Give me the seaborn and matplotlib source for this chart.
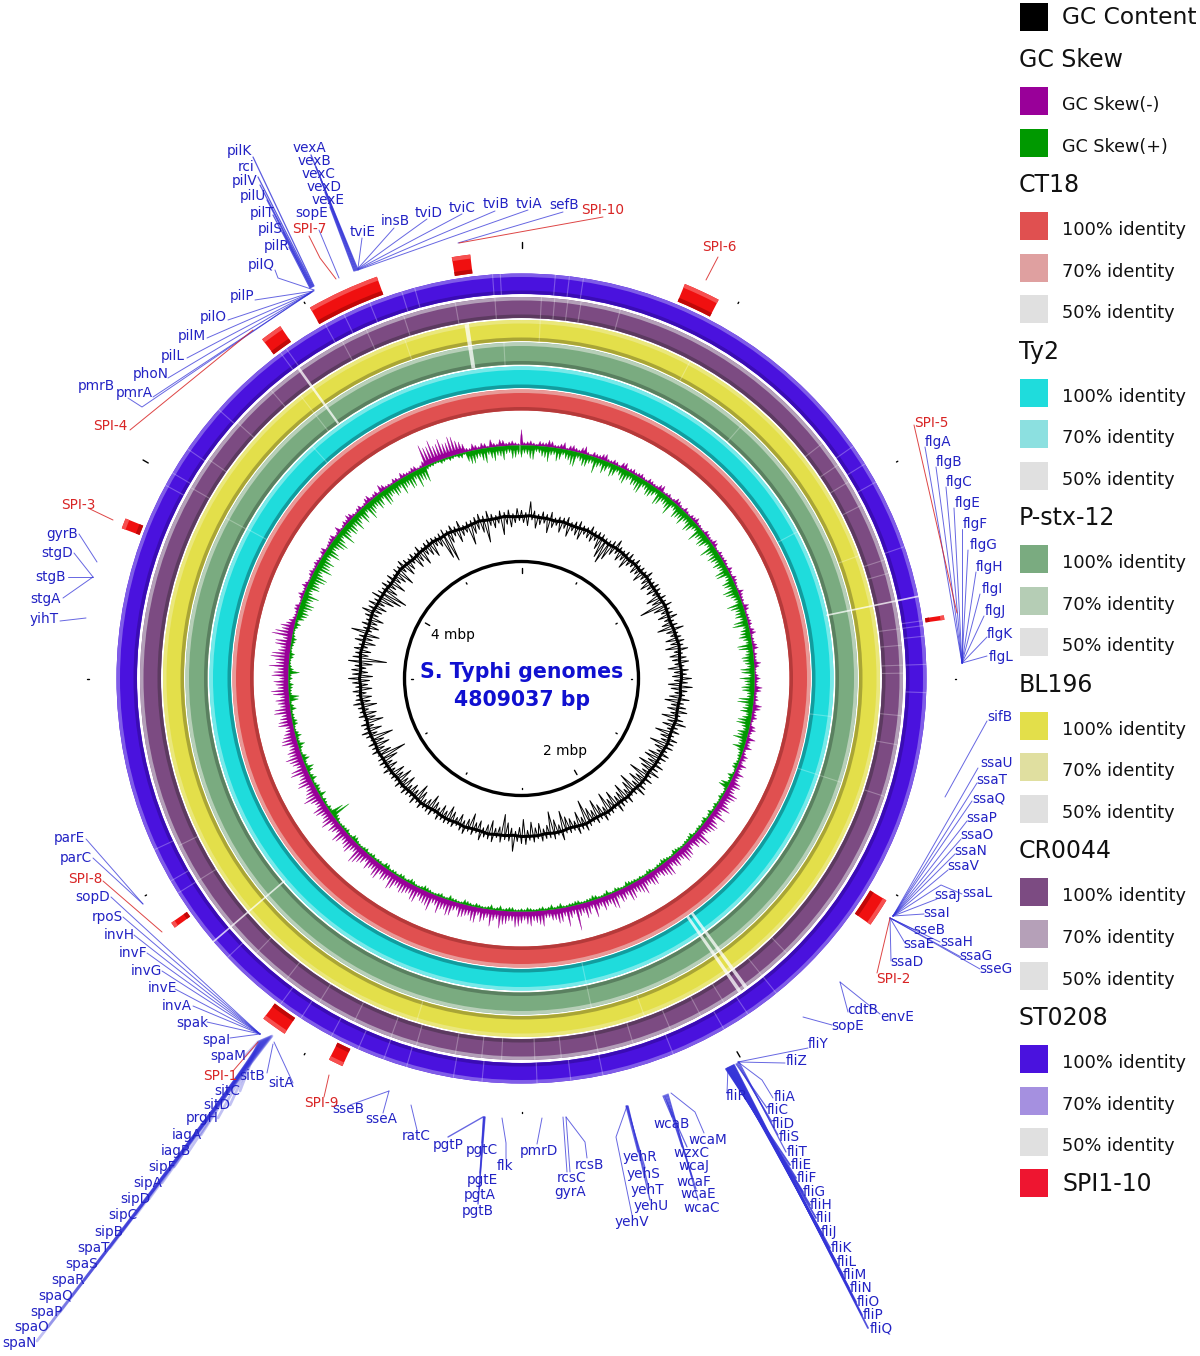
#!/usr/bin/env python3
# Circular genome comparison of S. Typhi (rings, GC skew, GC content, gene labels)
import numpy as np
import seaborn as sns
import matplotlib
matplotlib.use('Agg')
import matplotlib.pyplot as plt
from matplotlib.patches import Wedge, Circle, Rectangle

sns.set_theme(style='white')

CX, CY = 521.5, 678.5

# Values, one row per 30 degrees, clockwise from the top
gc_in = [
    7,10,5,13,8,6,15,9,5,11,7,14,6,9,12,5,8,10,6,13,
    20,24,17,9,6,11,8,14,7,5,10,8,12,6,9,13,7,10,6,15,
    11,26,14,8,12,7,10,16,9,6,12,8,15,7,11,9,6,13,8,10,
    8,14,10,6,12,16,8,11,7,15,9,13,6,17,10,8,19,12,7,14,
    16,10,18,13,8,20,11,16,9,21,14,8,18,12,9,17,11,20,8,13,
    19,10,14,24,9,16,7,11,13,20,8,14,23,10,6,12,9,15,7,18,
    10,6,8,13,22,9,7,14,10,6,11,8,16,9,7,12,6,10,15,8,
    12,7,10,15,9,6,13,18,8,11,7,14,10,17,9,13,6,11,8,16,
    27,13,9,16,11,22,8,14,7,18,10,12,6,15,9,11,7,13,8,10,
    14,9,6,12,27,8,11,7,13,9,15,6,11,8,14,7,10,13,8,16,
    22,26,13,9,16,8,12,18,7,14,10,6,13,9,16,8,11,15,7,10,
    24,29,12,7,14,9,6,20,11,8,13,24,7,10,6,18,9,12,7,5,
]
gc_out = [
    5,3,13,4,2,5,3,6,2,4,3,5,2,4,6,3,2,5,3,4,
    4,2,3,5,8,3,2,4,6,3,5,2,4,3,6,2,3,5,4,2,
    5,3,6,2,4,7,3,5,9,2,4,6,3,7,2,5,8,3,6,4,
    9,5,11,6,3,8,4,7,9,3,6,10,4,7,3,8,5,6,3,7,
    6,3,8,5,10,4,7,3,6,9,4,2,6,3,5,8,2,4,3,6,
    3,5,2,4,6,3,7,2,4,3,8,2,5,3,4,6,2,5,3,7,
    6,4,15,5,3,6,2,7,4,3,8,2,5,3,6,4,2,5,3,4,
    3,5,2,6,4,3,5,2,7,3,4,6,2,5,3,4,2,6,3,5,
    4,2,5,3,6,2,4,7,3,5,2,6,3,4,8,5,3,6,4,7,
    10,6,8,5,11,7,4,6,3,8,5,14,4,7,3,6,10,5,8,4,
    9,5,3,6,4,7,2,5,3,6,4,2,5,3,6,2,4,5,3,2,
    4,6,2,5,3,7,2,4,3,5,6,3,8,4,2,6,3,5,2,7,
]
# Slow drift of the GC line, one value per 3 degrees
gc_core = [
    2,3,2,2,1,2,1,1,2,1,
    1,0,1,1,0,1,0,1,0,0,
    0,1,0,-1,0,0,1,0,-1,0,
    0,-1,0,-1,-1,0,-1,-1,0,-1,
    -1,-1,-2,-1,-1,-2,-1,-2,-2,-1,
    -2,-2,-1,-2,-3,-2,-2,-3,-2,-2,
    -2,-3,-2,-2,-1,-2,-2,-1,-2,-1,
    -1,-2,-1,0,-1,-1,0,-1,0,0,
    0,1,0,1,1,0,1,1,2,1,
    2,1,2,3,2,2,1,2,3,2,
    2,2,1,2,3,2,1,2,2,3,
    2,3,2,1,2,3,2,2,3,2,
]
skew_neg = [
    16,4,3,5,4,6,3,7,5,4,6,3,5,4,7,3,4,6,3,5,
    4,3,5,3,6,2,4,3,5,2,3,4,6,3,2,4,3,5,2,3,
    4,2,3,5,3,2,4,3,6,2,3,4,5,2,3,6,4,3,5,2,
    6,3,7,4,3,8,5,3,6,4,9,5,3,7,4,6,10,7,12,9,
    13,9,15,10,7,14,11,8,16,12,9,14,10,13,8,15,11,9,13,10,
    14,10,16,12,8,15,11,9,18,13,10,26,12,9,15,11,8,14,10,13,
    12,16,10,14,9,17,12,8,15,11,14,9,16,12,10,18,13,9,15,11,
    14,10,17,12,9,15,11,8,14,19,10,13,9,16,11,8,13,10,15,9,
    18,12,9,14,10,16,12,17,13,9,15,11,8,14,10,16,12,9,18,13,
    9,15,20,14,18,10,16,21,12,9,4,3,5,2,6,3,4,2,5,3,
    4,2,6,3,5,2,7,3,4,6,2,5,3,7,4,2,6,3,5,2,
    4,3,5,3,22,18,16,21,15,19,12,4,7,3,5,8,3,6,4,3,
]
skew_neg_mid = [
    3,5,2,4,7,3,5,2,6,3,8,2,4,6,3,5,2,7,4,3,
    5,2,4,3,7,3,2,6,3,5,2,4,3,2,5,3,6,2,4,3,
    3,5,2,4,2,6,3,2,5,3,4,2,6,3,5,2,3,7,2,4,
    4,8,3,5,9,4,6,2,7,3,5,8,4,6,9,5,7,11,8,14,
    10,12,8,16,11,13,9,17,10,7,13,15,9,11,16,12,8,14,10,17,
    12,15,9,13,17,10,14,11,8,16,12,9,20,14,11,8,16,12,15,9,
    15,10,13,18,11,9,14,16,10,13,8,15,11,17,9,14,12,16,10,13,
    11,15,9,13,16,10,14,12,17,9,15,11,14,8,13,16,10,14,9,12,
    14,10,16,11,18,9,14,12,10,16,13,9,15,12,17,10,14,16,11,15,
    17,11,13,19,12,16,9,18,14,7,3,5,2,4,3,6,2,4,3,5,
    3,5,2,4,6,3,2,5,7,3,4,2,6,3,5,8,3,2,4,6,
    3,5,2,6,18,23,17,15,20,14,9,3,5,6,2,4,7,3,5,2,
]
skew_pos = [
    12,9,14,7,11,8,13,6,10,15,8,12,7,9,13,6,11,8,14,7,
    10,15,8,12,6,13,9,16,7,11,14,8,12,6,10,13,7,16,9,11,
    12,8,14,7,11,15,9,6,13,10,7,16,9,12,6,14,8,11,7,13,
    15,9,12,7,16,10,6,13,8,11,14,7,6,4,3,5,2,4,9,3,
    3,2,4,2,3,5,2,3,2,4,3,2,4,2,3,5,3,2,4,2,
    2,3,5,2,4,2,3,2,5,3,2,4,3,2,3,5,2,3,2,4,
    3,2,4,2,3,5,2,3,2,4,2,3,5,2,3,2,4,3,2,5,
    2,4,3,2,5,3,2,3,4,2,3,5,2,3,2,4,20,3,2,4,
    7,4,3,6,2,8,3,5,2,7,3,4,2,5,3,6,2,10,3,5,
    4,11,3,2,5,2,4,3,2,6,8,11,13,9,16,7,12,15,10,17,
    12,9,16,8,14,11,18,9,13,16,8,12,17,10,14,7,15,9,12,16,
    10,14,18,13,4,3,2,3,4,2,5,10,13,8,15,11,9,14,7,12,
]
skew_pos_mid = [
    8,13,6,10,15,7,11,9,14,6,12,8,16,7,10,13,6,12,9,11,
    14,7,12,9,15,8,11,6,13,10,8,14,7,16,9,12,6,11,13,8,
    9,14,6,12,8,13,7,16,9,11,14,6,10,8,15,7,12,9,14,6,
    10,13,7,15,8,12,9,14,6,10,7,12,4,3,5,2,6,3,10,2,
    4,2,3,5,2,4,3,2,5,3,2,3,5,2,4,3,2,4,2,3,
    3,4,2,3,2,5,2,4,3,2,4,3,2,5,2,3,4,2,3,2,
    2,4,3,5,2,3,2,4,3,5,2,3,2,4,2,3,5,2,4,3,
    4,2,3,5,2,3,4,2,3,2,5,2,4,3,2,5,14,4,3,2,
    3,5,2,4,6,3,7,2,4,3,6,2,5,3,2,4,9,3,4,2,
    3,5,2,4,2,3,5,2,4,3,10,9,14,11,8,13,10,16,8,13,
    15,8,13,10,16,7,12,14,9,11,15,7,13,9,12,16,10,13,8,11,
    15,8,12,16,3,2,4,2,3,4,2,13,9,12,7,14,10,8,13,9,
]

# Rings from outside to inside
ring_names = ['ST0208', 'CR0044', 'BL196', 'P-stx-12', 'Ty2', 'CT18']
ring_outer = [405, 381.5, 358.5, 336, 312, 289]
ring_inner = [384.5, 360.5, 337.5, 314, 290.5, 268]
ring_main = ['#4a12de', '#7c4b82', '#e3df4a', '#7aab80', '#1fdcdc', '#e05050']
ring_light = ['#7f5ce8', '#b39fb8', '#eae77c', '#b7cfb8', '#78e9e9', '#e89a98']
ring_dark = ['#3a0cb4', '#5c3a60', '#a9a536', '#5a8060', '#129c9e', '#b53a3a']
ring_70 = ['#a590e0', '#b5a0b8', '#e0dfa0', '#b5cdb5', '#8ce0e0', '#dfa0a0']

# Angles of the pale cuts in each ring
blue_cuts = [4.8, 6.8, 8.8, 298.5, 300.5, 304.5, 311.6, 323.5, 324.5, 331, 334, 338,
             342.8, 344.7, 355.9, 357, 55, 58, 61, 71, 81.8, 82.5, 84, 88, 92, 141,
             146, 150, 158, 168.4, 173, 177.8, 185.6, 189.7, 196.5, 199.9, 203.8, 208,
             213, 216.5, 226.5, 238, 240, 245]
purple_cuts = [3, 5, 7, 9, 15, 52, 56, 59, 63, 71.9, 74, 82.5, 85, 88, 89.2, 95.6, 100,
               108, 136, 141, 148, 152, 157, 163, 168.4, 174, 178, 183, 186, 190, 196,
               200, 206, 212, 218, 224, 238, 244, 300, 305, 312, 319, 332, 336, 342, 350, 356]
yellow_cuts = [3, 28, 70, 160, 197, 322, 341]
green_cuts = [357, 41, 108, 168, 298.5, 322]
cyan_cuts = [62, 97, 108, 168, 298.6, 318]
red_cuts = []
strong_cuts = [78.3, 229.5]
strong_start = [312, 312]
strong_end = [405, 405]

# Wide pale band that crosses the middle rings, and the one at the top left
wide_angles = [144.0, 145.1, 351.2, 324.3]
wide_widths = [0.55, 0.55, 0.7, 0.4]
wide_outer = [382, 382, 358.5, 382]
wide_inner = [290, 290, 314, 314]

# Pathogenicity islands on the outside of the rings
spi_start = [330.3, 350.6, 22.5, 322.6, 290.6, 81.5, 121.3, 213.7, 234.3, 204.8]
spi_end = [340.2, 353.1, 27.5, 325.6, 292.0, 82.1, 125.2, 217.2, 235.1, 206.8]

# Scale ticks, same positions on the inner circle and round the outside
tick_major = [0, 150, 300]
tick_minor = [30, 60, 90, 120, 180, 210, 240, 270, 330]

# Gene labels: name, label x, label y, leader x, leader y
pil_labels = [
    ('pilK', 239, 151, 253, 157), ('rci', 246, 167, 258, 177), ('pilV', 245, 181, 260, 185),
    ('pilU', 253, 196, 267, 200), ('pilT', 262, 213, 273, 215), ('pilS', 270, 229, 283, 232),
    ('pilR', 277, 246, 289, 247),
]
pil_fan = [
    ('pilP', 242, 296, 255, 300), ('pilO', 213, 317, 228, 320), ('pilM', 192, 336, 207, 338),
    ('pilL', 173, 356, 187, 358), ('phoN', 151, 374, 168, 378), ('pmrA', 134, 393, 153, 397),
]
vex_labels = [
    ('vexA', 309, 148, 311, 155), ('vexB', 314, 161, 316, 167), ('vexC', 319, 174, 321, 180),
    ('vexD', 324, 187, 325, 192), ('vexE', 328, 200, 330, 207),
]
tvi_labels = [
    ('tviE', 363, 232, 362, 238), ('insB', 395, 221, 394, 228), ('tviD', 429, 213, 427, 219),
    ('tviC', 462, 208, 462, 214), ('tviB', 496, 204, 495, 211), ('tviA', 529, 204, 528, 210),
]
flg_labels = [
    ('flgA', 938, 442, 925, 447), ('flgB', 949, 462, 936, 467), ('flgC', 959, 482, 946, 487),
    ('flgE', 968, 503, 954, 508), ('flgF', 975, 524, 962, 529), ('flgG', 984, 545, 968, 550),
    ('flgH', 990, 567, 976, 572), ('flgI', 992, 589, 980, 594), ('flgJ', 995, 611, 984, 616),
    ('flgK', 1000, 634, 987, 637), ('flgL', 1001, 657, 987, 656),
]
ssa_labels = [
    ('ssaU', 997, 763, 978, 768), ('ssaT', 992, 780, 977, 783), ('ssaQ', 989, 798, 972, 801),
    ('ssaP', 982, 818, 967, 821), ('ssaO', 977, 835, 961, 839), ('ssaN', 971, 851, 955, 854),
    ('ssaV', 963, 866, 948, 870), ('ssaJ', 948, 895, 937, 899), ('ssaI', 937, 913, 924, 914),
    ('sseB', 929, 930, 915, 930), ('ssaE', 919, 944, 905, 943), ('ssaH', 957, 942, 940, 942),
    ('ssaG', 976, 956, 961, 957), ('sseG', 996, 969, 980, 969),
]
fli_labels = [
    ('fliE', 801, 1165, 790, 1165), ('fliF', 807, 1178, 796, 1178), ('fliG', 814, 1192, 803, 1192),
    ('fliH', 821, 1205, 810, 1205), ('fliI', 824, 1218, 816, 1218), ('fliJ', 829, 1232, 821, 1232),
    ('fliK', 841, 1248, 830, 1248), ('fliL', 847, 1262, 836, 1262), ('fliM', 855, 1275, 843, 1275),
    ('fliN', 861, 1288, 849, 1288), ('fliO', 868, 1302, 856, 1302), ('fliP', 873, 1315, 862, 1315),
    ('fliQ', 881, 1328, 868, 1328),
]
fli_near = [
    ('fliC', 778, 1110, 767, 1108), ('fliD', 783, 1124, 772, 1122), ('fliS', 789, 1137, 778, 1135),
    ('fliT', 797, 1152, 786, 1152),
]
wca_labels = [
    ('wcaB', 672, 1124, 672, 1117), ('wzxC', 691, 1153, 687, 1147), ('wcaJ', 694, 1166, 682, 1147),
    ('wcaF', 694, 1182, 692, 1177), ('wcaE', 698, 1194, 696, 1189), ('wcaC', 702, 1208, 698, 1200),
]
yeh_labels = [
    ('yehR', 640, 1157, 638, 1152), ('yehS', 643, 1174, 645, 1168), ('yehT', 647, 1190, 648, 1185),
    ('yehU', 651, 1206, 650, 1200),
]
pgt_labels = [
    ('pgtP', 448, 1145, 448, 1137), ('pgtC', 482, 1150, 482, 1143), ('pgtE', 482, 1180, 480, 1173),
    ('pgtA', 480, 1195, 479, 1189), ('pgtB', 478, 1211, 478, 1204),
]
inv_labels = [
    ('sopD', 93, 897, 111, 897), ('rpoS', 107, 917, 123, 917), ('invH', 119, 935, 134, 935),
    ('invF', 133, 953, 147, 953), ('invG', 146, 971, 162, 971), ('invE', 162, 988, 175, 989),
    ('invA', 177, 1006, 193, 1006), ('spak', 192, 1023, 207, 1022), ('spaI', 216, 1040, 230, 1038),
]
spa_labels = [
    ('spaM', 228, 1056, 245, 1056), ('sitC', 227, 1091, 240, 1091), ('sitD', 217, 1105, 230, 1105),
    ('prgH', 202, 1118, 218, 1118), ('iagA', 187, 1135, 201, 1135), ('iagB', 176, 1151, 189, 1151),
    ('sipF', 162, 1167, 174, 1167), ('sipA', 148, 1183, 162, 1183), ('sipD', 135, 1199, 149, 1199),
    ('sipC', 123, 1215, 136, 1215), ('sipB', 109, 1232, 122, 1232), ('spaT', 94, 1248, 110, 1248),
    ('spaS', 82, 1264, 97, 1264), ('spaR', 68, 1280, 84, 1280), ('spaQ', 56, 1296, 72, 1296),
    ('spaP', 46, 1312, 60, 1312), ('spaO', 32, 1327, 48, 1327), ('spaN', 19, 1343, 37, 1341),
]

# Labels with their own leader, given as a path
other_labels = [
    ('pilQ', 261, 265, [(275, 270), (278, 278), (314, 290)]),
    ('pmrB', 96, 386, [(128, 398), (142, 407), (314, 290)]),
    ('sopE', 312, 213, [(319, 230), (339, 278)]),
    ('sefB', 564, 205, [(563, 212), (458, 243)]),
    ('sifB', 1000, 717, [(987, 721), (945, 797)]),
    ('ssaL', 977, 893, [(962, 894), (941, 885), (893, 916)]),
    ('ssaD', 907, 962, [(891, 961), (890, 918)]),
    ('cdtB', 863, 1010, [(848, 1012), (840, 982)]),
    ('envE', 897, 1017, [(880, 1014), (840, 982)]),
    ('sopE', 848, 1026, [(832, 1025), (803, 1017)]),
    ('fliY', 818, 1044, [(808, 1048), (738, 1062)]),
    ('fliZ', 797, 1061, [(785, 1063), (738, 1062)]),
    ('fliR', 737, 1096, [(727, 1093), (728, 1068)]),
    ('fliA', 785, 1097, [(773, 1098), (762, 1080), (738, 1062)]),
    ('wcaM', 708, 1140, [(704, 1133), (695, 1112), (671, 1093)]),
    ('yehV', 632, 1222, [(632, 1215), (616, 1137), (627, 1106)]),
    ('rcsB', 589, 1165, [(587, 1158), (585, 1142), (566, 1117)]),
    ('rcsC', 572, 1178, [(570, 1172), (566, 1117)]),
    ('gyrA', 570, 1192, [(567, 1172), (563, 1117)]),
    ('pmrD', 539, 1151, [(537, 1144), (542, 1118)]),
    ('flk', 505, 1166, [(506, 1159), (506, 1143), (502, 1118)]),
    ('ratC', 416, 1136, [(417, 1130), (411, 1105)]),
    ('sseA', 381, 1119, [(383, 1113), (389, 1091)]),
    ('sseB', 348, 1109, [(350, 1105), (389, 1091)]),
    ('parE', 69, 838, [(86, 839), (143, 904)]),
    ('parC', 76, 858, [(93, 858), (143, 904)]),
    ('sitB', 252, 1076, [(267, 1073), (273, 1044)]),
    ('sitA', 281, 1083, [(293, 1083), (274, 1042)]),
    ('gyrB', 62, 534, [(79, 534), (97, 562)]),
    ('stgD', 57, 553, [(74, 553), (93, 577)]),
    ('stgB', 51, 577, [(68, 577), (93, 577)]),
    ('stgA', 46, 599, [(63, 598), (93, 577)]),
    ('yihT', 44, 619, [(60, 621), (86, 618)]),
]
spi_labels = [
    ('SPI-1', 220, 1076, [(233, 1071), (258, 1042)]),
    ('SPI-2', 893, 979, [(877, 973), (890, 918)]),
    ('SPI-3', 78, 505, [(90, 509), (113, 520)]),
    ('SPI-4', 110, 426, [(130, 430), (253, 330)]),
    ('SPI-5', 931, 423, [(914, 425), (957, 613)]),
    ('SPI-6', 719, 247, [(718, 257), (706, 280)]),
    ('SPI-7', 309, 229, [(309, 236), (320, 258), (336, 279)]),
    ('SPI-8', 85, 879, [(103, 881), (162, 932)]),
    ('SPI-9', 321, 1103, [(324, 1097), (329, 1075)]),
    ('SPI-10', 603, 210, [(603, 217), (459, 243)]),
]

# Legend
legend_groups = ['CT18', 'Ty2', 'P-stx-12', 'BL196', 'CR0044', 'ST0208']
legend_levels = ['100% identity', '70% identity', '50% identity']
GREY_50 = '#e0e0e0'
SPI_COLOR = '#ee1530'
BLUE = '#2222c4'
LINE_BLUE = '#3434d8'
RED = '#d82424'


def polar(angle, r):
    # angle clockwise from the top, in degrees
    a = np.radians(angle)
    return CX + r * np.sin(a), CY - r * np.cos(a)


def band(ax, start, end, outer, inner, color, z=2):
    ax.add_patch(Wedge((CX, CY), outer, start - 90, end - 90, width=outer - inner,
                       facecolor=color, edgecolor='none', zorder=z))


def cut(ax, angle, outer, inner, alpha=0.28, lw=0.8):
    xs, ys = polar(np.array([angle, angle]), np.array([inner, outer]))
    ax.plot(xs, ys, color='white', alpha=alpha, lw=lw, zorder=3)


def write(ax, name, x, y, color=BLUE, size=9.8):
    ax.text(x, y, name, color=color, fontsize=size, ha='center', va='center', zorder=6)


def fan(ax, labels, a0, a1, lw=0.7, alpha=0.75):
    # leaders of one cluster run to a short stretch of anchor points
    xs = np.linspace(a0[0], a1[0], len(labels))
    ys = np.linspace(a0[1], a1[1], len(labels))
    for (name, lx, ly, sx, sy), ax0, ay0 in zip(labels, xs, ys):
        ax.plot([sx, ax0], [sy, ay0], color=LINE_BLUE, lw=lw, alpha=alpha, zorder=4)
        write(ax, name, lx, ly)


def spikes(ax, coarse, mid, base, sign, color):
    # narrow spikes on a solid foot that is thicker where the signal is strong
    steps = np.arange(len(coarse)) * 1.5
    tip_a = np.ravel(np.column_stack([steps, steps + 0.75]))
    size = np.ravel(np.column_stack([coarse, mid]))
    foot = np.minimum(size * 0.45, 5)
    verts_a = np.ravel(np.column_stack([tip_a - 0.27, tip_a, tip_a + 0.27]))
    verts_r = base + sign * np.ravel(np.column_stack([foot, size, foot]))
    xo, yo = polar(verts_a, verts_r)
    xi, yi = polar(verts_a[::-1], np.full(len(verts_a), base))
    ax.fill(np.r_[xo, xi], np.r_[yo, yi], color=color, lw=0.2, zorder=2)


fig = plt.figure(figsize=(12, 13.56), dpi=100)
ax = fig.add_axes([0, 0, 1, 1])

# Identity rings with their light and dark edges
for outer, inner, main, light, dark in zip(ring_outer, ring_inner, ring_main, ring_light, ring_dark):
    band(ax, 0, 360, outer, inner, main)
    band(ax, 0, 360, outer, outer - 3.5, light)
    band(ax, 0, 360, inner + 3.5, inner, dark)

for cuts, outer, inner in zip([blue_cuts, purple_cuts, yellow_cuts, green_cuts, cyan_cuts, red_cuts],
                              ring_outer, ring_inner):
    for angle in cuts:
        cut(ax, angle, outer, inner)
for angle, outer, inner in zip(strong_cuts, strong_end, strong_start):
    cut(ax, angle, outer, inner, alpha=0.75, lw=1.2)
for angle, width, outer, inner in zip(wide_angles, wide_widths, wide_outer, wide_inner):
    ax.add_patch(Wedge((CX, CY), outer, angle - width / 2 - 90, angle + width / 2 - 90,
                       width=outer - inner, facecolor='white', alpha=0.75, edgecolor='none', zorder=3))

# Island blocks
for start, end in zip(spi_start, spi_end):
    band(ax, start, end, 427, 408, '#f01010')
    band(ax, start, end, 427, 423, '#f65050')
    band(ax, start, end, 412, 408, '#c00808')

# GC skew, negative side outwards, positive side inwards
SKEW_R = 233
spikes(ax, skew_neg, skew_neg_mid, SKEW_R, 1, '#990099')
spikes(ax, skew_pos, skew_pos_mid, SKEW_R, -1, '#009900')

# GC content as one zigzag line around a thick drifting core
GC_R = 161
gc_angles = np.arange(len(gc_in)) * 1.5
drift = np.repeat(gc_core, 2)
gc_a = np.ravel(np.column_stack([gc_angles, gc_angles + 0.75]))
gc_r = np.ravel(np.column_stack([GC_R + drift + np.array(gc_out), GC_R + drift - np.array(gc_in)]))
x_gc, y_gc = polar(np.r_[gc_a, gc_a[0]], np.r_[gc_r, gc_r[0]])
sns.lineplot(x=x_gc, y=y_gc, sort=False, estimator=None, color='black', lw=0.7, ax=ax, legend=False, zorder=2)
core_a = np.arange(len(gc_core)) * 3.0
x_core, y_core = polar(np.r_[core_a, core_a[0]], GC_R - 1 + np.r_[gc_core, gc_core[0]])
sns.lineplot(x=x_core, y=y_core, sort=False, estimator=None, color='black', lw=2.2, ax=ax, legend=False, zorder=2)

# Inner circle with ticks and the centre title
ax.add_patch(Circle((CX, CY), 117, fill=False, edgecolor='black', lw=2.4, zorder=3))
for angle in tick_major:
    xs, ys = polar(np.array([angle, angle]), np.array([106, 111]))
    ax.plot(xs, ys, color='black', lw=1, zorder=3)
    xs, ys = polar(np.array([angle, angle]), np.array([431, 437]))
    ax.plot(xs, ys, color='black', lw=1, zorder=3)
for angle in tick_minor:
    xs, ys = polar(np.array([angle, angle]), np.array([109, 110.5]))
    ax.plot(xs, ys, color='black', lw=1, zorder=3)
    xs, ys = polar(np.array([angle, angle]), np.array([433, 434.5]))
    ax.plot(xs, ys, color='black', lw=1, zorder=3)

ax.text(521.5, 672, 'S. Typhi genomes', color='#1010d0', fontsize=14.8, fontweight='bold', ha='center', va='center')
ax.text(521.5, 700, '4809037 bp', color='#1010d0', fontsize=14.8, fontweight='bold', ha='center', va='center')
ax.text(453, 635, '4 mbp', color='black', fontsize=9.9, ha='center', va='center')
ax.text(565, 751, '2 mbp', color='black', fontsize=9.9, ha='center', va='center')

# Gene labels
fan(ax, pil_labels, (314, 286), (310, 288), lw=0.9, alpha=0.8)
fan(ax, pil_fan, (314, 291), (309, 294))
fan(ax, vex_labels, (358, 270), (354, 271), lw=1.0, alpha=0.8)
fan(ax, tvi_labels, (358, 268), (358, 270))
fan(ax, flg_labels, (962, 663), (962, 663))
fan(ax, ssa_labels[:9], (893, 916), (893, 916))
fan(ax, ssa_labels[9:], (890, 918), (890, 918))
fan(ax, fli_labels, (726, 1069), (734, 1065), lw=1.3, alpha=0.85)
fan(ax, fli_near, (736, 1064), (739, 1062), lw=0.9)
fan(ax, wca_labels, (663, 1096), (668, 1094), lw=0.9)
fan(ax, yeh_labels, (626, 1106), (628, 1106), lw=1.0)
fan(ax, pgt_labels, (483, 1117), (485, 1117), lw=1.0)
fan(ax, inv_labels, (260, 1034), (260, 1034))
fan(ax, spa_labels, (258, 1042), (272, 1036), lw=2.0, alpha=0.3)

for name, lx, ly, path in other_labels:
    px, py = zip(*path)
    ax.plot(px, py, color=LINE_BLUE, lw=0.7, alpha=0.75, zorder=4)
    write(ax, name, lx, ly)
for name, lx, ly, path in spi_labels:
    px, py = zip(*path)
    ax.plot(px, py, color=RED, lw=0.7, alpha=0.85, zorder=4)
    write(ax, name, lx, ly, color=RED)


# Legend on the right
def swatch(y, color):
    ax.add_patch(Rectangle((1020, y - 14), 28, 28, facecolor=color, edgecolor='none'))


def legend_text(y, text, x=1062, size=12.8):
    ax.text(x, y + 1, text, color='#111111', fontsize=size, ha='left', va='center')


swatch(17, 'black')
legend_text(17, 'GC Content', size=16.8)
legend_text(59, 'GC Skew', x=1019, size=17)
swatch(101, '#990099')
legend_text(104, 'GC Skew(-)', size=12.6)
swatch(143, '#009900')
legend_text(146, 'GC Skew(+)', size=12.6)

fills = list(zip(ring_main[::-1], ring_70[::-1]))
for i, (group, (main, seventy)) in enumerate(zip(legend_groups, fills)):
    top = 184 + i * 166.6
    legend_text(top, group, x=1019, size=17)
    for j, (level, color) in enumerate(zip(legend_levels, [main, seventy, GREY_50])):
        y = top + 45 + j * 41.6
        swatch(y - 3, color)
        legend_text(y, level)
swatch(1183, SPI_COLOR)
legend_text(1183, 'SPI1-10', size=17)

ax.set_xlim(0, 1200)
ax.set_ylim(1356, 0)
ax.axis('off')
fig.savefig('out.png', dpi=100, facecolor='white')
